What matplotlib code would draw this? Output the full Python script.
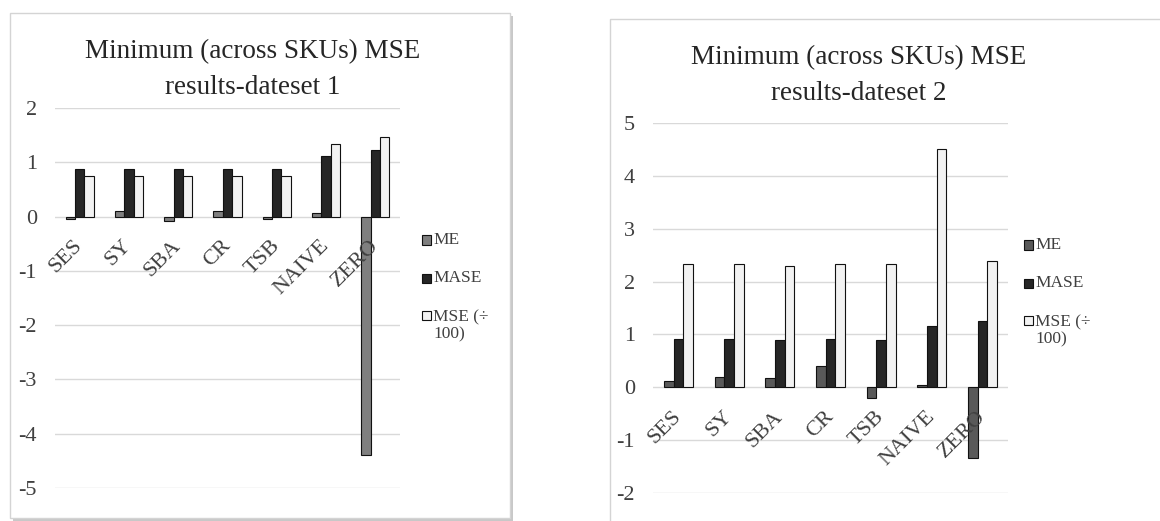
import numpy as np
import matplotlib
matplotlib.use("Agg")
import matplotlib.pyplot as plt
from matplotlib.patches import Rectangle

plt.rcParams["font.family"] = ["Liberation Serif", "DejaVu Serif"]

methods = ["SES", "SY", "SBA", "CR", "TSB", "NAIVE", "ZERO"]
series_names = ["ME", "MASE", "MSE (÷\n100)"]

# dataset 1
d1_me = [-0.04, 0.11, -0.09, 0.11, -0.04, 0.06, -4.40]
d1_mase = [0.88, 0.88, 0.88, 0.88, 0.88, 1.12, 1.23]
d1_mse = [0.74, 0.74, 0.74, 0.74, 0.74, 1.34, 1.46]
d1_ticks = [2, 1, 0, -1, -2, -3, -4, -5]

# dataset 2
d2_me = [0.11, 0.20, 0.17, 0.41, -0.20, 0.05, -1.34]
d2_mase = [0.92, 0.92, 0.89, 0.92, 0.89, 1.16, 1.25]
d2_mse = [2.33, 2.33, 2.30, 2.33, 2.33, 4.50, 2.39]
d2_ticks = [5, 4, 3, 2, 1, 0, -1, -2]

W, H = 1160, 521
MASE_COLOR = "#262626"
MSE_COLOR = "#f2f2f2"
GRID = "#d9d9d9"
TXT = "#404040"


def px(x0, y0, x1, y1):
    # pixel box (top-left origin) -> figure fraction [l, b, w, h]
    return [x0 / W, (H - y1) / H, (x1 - x0) / W, (y1 - y0) / H]


def frame(fig, x0, y0, x1, y1, shadow=False):
    if shadow:
        l, b, w, h = px(x0 + 3, y0 + 3, x1 + 3, y1 + 3)
        fig.patches.append(Rectangle((l, b), w, h, transform=fig.transFigure,
                                     facecolor="#c8c8c8", edgecolor="none", zorder=-3))
    l, b, w, h = px(x0, y0, x1, y1)
    fig.patches.append(Rectangle((l, b), w, h, transform=fig.transFigure,
                                 facecolor="white", edgecolor="#d4d4d4",
                                 linewidth=1.0, zorder=-2))


def panel(fig, box, me, mase, mse, me_color, yticks, title_lines, title_x, title_y,
          leg_x, leg_y):
    ax = fig.add_axes(px(*box))
    ax.patch.set_visible(False)
    x = np.arange(len(methods))
    w = 0.19
    for off, vals, col in zip([-w, 0, w], [me, mase, mse], [me_color, MASE_COLOR, MSE_COLOR]):
        ax.bar(x + off, vals, w, color=col, edgecolor="#111111", linewidth=0.8, zorder=2)

    ax.set_xlim(-0.5, len(methods) - 0.5)
    ax.set_ylim(min(yticks), max(yticks))
    ax.set_yticks(yticks)
    ax.set_yticklabels([str(t) for t in yticks])
    ax.yaxis.grid(True, color=GRID, linewidth=1.0)
    ax.set_axisbelow(True)
    ax.xaxis.set_zorder(3)  # category labels sit on top of long negative bars
    for s in ax.spines.values():
        s.set_visible(False)
    ax.spines["bottom"].set_position(("data", 0))

    ax.set_xticks(x)
    ax.set_xticklabels(methods, rotation=45, ha="right", va="center",
                       rotation_mode="anchor")
    ax.tick_params(axis="x", length=0, pad=19, labelsize=16, labelcolor=TXT)
    ax.tick_params(axis="y", length=0, pad=13, labelsize=16, labelcolor=TXT)

    for line, ty in zip(title_lines, title_y):
        fig.text(title_x / W, 1 - ty / H, line, ha="center", va="center",
                 fontsize=19.5, color="#262626")

    # legend
    colors = [me_color, MASE_COLOR, MSE_COLOR]
    for name, col, yy in zip(series_names, colors, leg_y):
        l, b, ww, hh = px(leg_x, yy - 4.5, leg_x + 9, yy + 4.5)
        fig.patches.append(Rectangle((l, b), ww, hh, transform=fig.transFigure,
                                     facecolor=col, edgecolor="#111111", linewidth=0.8))
        ty = yy + 11 if "\n" in name else yy
        fig.text((leg_x + 11) / W, 1 - ty / H, name, ha="left", va="center",
                 fontsize=12.5, color=TXT, linespacing=1.1)
    return ax


fig = plt.figure(figsize=(W / 100, H / 100), dpi=100)

frame(fig, 10, 13, 510, 518, shadow=True)
frame(fig, 610, 19, 1180, 540)

panel(fig, (55, 108, 400, 488), d1_me, d1_mase, d1_mse, "#7f7f7f", d1_ticks,
      ["Minimum (across SKUs) MSE", "results-dateset 1"], 253, [52, 88],
      422, [240, 278, 315])
panel(fig, (653, 123, 1008, 493), d2_me, d2_mase, d2_mse, "#595959", d2_ticks,
      ["Minimum (across SKUs) MSE", "results-dateset 2"], 859, [58, 93],
      1024, [245, 283, 320])

fig.savefig("out.png", dpi=100, facecolor="white")
